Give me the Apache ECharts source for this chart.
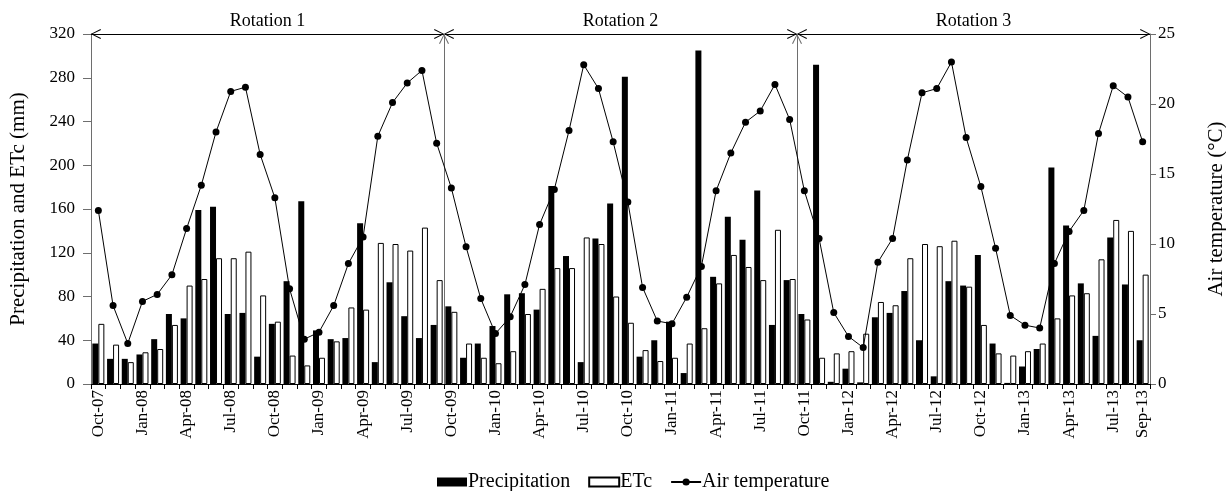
<!DOCTYPE html>
<html>
<head>
<meta charset="utf-8">
<script src="https://cdn.jsdelivr.net/npm/echarts@6/dist/echarts.min.js"></script>
<style>
  html, body { margin: 0; padding: 0; background: #fff; }
  #chart { width: 1226px; height: 491px; }
</style>
</head>
<body>
<div id="chart"></div>
<script>
// Monthly records, Oct-07 to Sep-13
const months = [
  'Oct-07','Nov-07','Dec-07','Jan-08','Feb-08','Mar-08','Apr-08','May-08','Jun-08','Jul-08','Aug-08','Sep-08',
  'Oct-08','Nov-08','Dec-08','Jan-09','Feb-09','Mar-09','Apr-09','May-09','Jun-09','Jul-09','Aug-09','Sep-09',
  'Oct-09','Nov-09','Dec-09','Jan-10','Feb-10','Mar-10','Apr-10','May-10','Jun-10','Jul-10','Aug-10','Sep-10',
  'Oct-10','Nov-10','Dec-10','Jan-11','Feb-11','Mar-11','Apr-11','May-11','Jun-11','Jul-11','Aug-11','Sep-11',
  'Oct-11','Nov-11','Dec-11','Jan-12','Feb-12','Mar-12','Apr-12','May-12','Jun-12','Jul-12','Aug-12','Sep-12',
  'Oct-12','Nov-12','Dec-12','Jan-13','Feb-13','Mar-13','Apr-13','May-13','Jun-13','Jul-13','Aug-13','Sep-13'
];

// Precipitation (mm)
const precipitation = [
  37, 23, 23, 27, 41, 64, 60, 159, 162, 64, 65, 25,
  55, 94, 167, 49, 41, 42, 147, 20, 93, 62, 42, 54,
  71, 24, 37, 53, 82, 83, 68, 181, 117, 20, 133, 165,
  281, 25, 40, 57, 10, 305, 98, 153, 132, 177, 54, 95,
  64, 292, 2, 14, 1.5, 61, 65, 85, 40, 7, 94, 90,
  118, 37, 1, 16, 32, 198, 145, 92, 44, 134, 91, 40
];

// Crop evapotranspiration ETc (mm)
const etc = [
  55, 36, 20, 29, 32, 54, 90, 96, 115, 115, 121, 81,
  57, 26, 17, 24, 39, 70, 68, 129, 128, 122, 143, 95,
  66, 37, 24, 19, 30, 64, 87, 106, 106, 134, 128, 80,
  56, 31, 21, 24, 37, 51, 92, 118, 107, 95, 141, 96,
  59, 24, 28, 30, 46, 75, 72, 115, 128, 126, 131, 89,
  54, 28, 26, 30, 37, 60, 81, 83, 114, 150, 140, 100
];

// Mean air temperature (°C)
const airTemp = [
  12.4, 5.6, 2.9, 5.9, 6.4, 7.8, 11.1, 14.2, 18.0, 20.9, 21.2, 16.4,
  13.3, 6.8, 3.2, 3.7, 5.6, 8.6, 10.5, 17.7, 20.1, 21.5, 22.4, 17.2,
  14.0, 9.8, 6.1, 3.6, 4.8, 7.1, 11.4, 13.9, 18.1, 22.8, 21.1, 17.3,
  13.0, 6.9, 4.5, 4.3, 6.2, 8.4, 13.8, 16.5, 18.7, 19.5, 21.4, 18.9,
  13.8, 10.4, 5.1, 3.4, 2.6, 8.7, 10.4, 16.0, 20.8, 21.1, 23.0, 17.6,
  14.1, 9.7, 4.9, 4.2, 4.0, 8.6, 10.9, 12.4, 17.9, 21.3, 20.5, 17.3
];

// Crop rotations and the month indices bounding them
const rotationNames = ['Rotation 1', 'Rotation 2', 'Rotation 3'];
const rotationBounds = [0, 24, 48, 72];

const leftTicks = { min: 0, max: 320, interval: 40 };
const rightTicks = { min: 0, max: 25, interval: 5 };

const FONT = 'Liberation Serif';
const AXIS_GREY = '#6e6e6e';

const chart = echarts.init(document.getElementById('chart'), null, { renderer: 'canvas' });

// Open chevron arrowhead; the empty sub-path keeps the tip on the line end
const chevron = 'path://M0,10 L5,0 L10,10 L9,10.5 L5,2 L1,10.5 Z M5,-10 L5.01,-10 L5,-10 Z';

const rotationMarks = rotationNames.map((name, i) => [
  { coord: [rotationBounds[i], leftTicks.max], name: name },
  { coord: [rotationBounds[i + 1], leftTicks.max] }
]);
const separatorMarks = rotationBounds.slice(1, -1).map(v => ({
  xAxis: v,
  symbol: 'none',
  label: { show: false },
  lineStyle: { color: AXIS_GREY, width: 1, type: 'solid' }
}));

const option = {
  animation: false,
  textStyle: { fontFamily: FONT, color: '#000' },
  grid: { left: 91, right: 76, top: 34, bottom: 107, containLabel: false, outerBoundsMode: 'none' },
  legend: {
    left: 432,
    top: 467,
    itemWidth: 30,
    itemHeight: 9,
    itemGap: 18,
    data: [
      { name: 'Precipitation', icon: 'rect' },
      { name: 'ETc', icon: 'rect' },
      { name: 'Air temperature' }
    ],
    textStyle: { fontFamily: FONT, fontSize: 20, color: '#000', padding: [0, 0, 0, -4] }
  },
  xAxis: [
    {
      type: 'category',
      data: months,
      boundaryGap: true,
      axisLine: { lineStyle: { color: '#000', width: 1 } },
      axisTick: { show: true, interval: 0, length: 5, lineStyle: { color: '#000' } },
      axisLabel: {
        rotate: 90,
        interval: 0,
        formatter: (v, idx) => (idx % 3 === 0 || idx === months.length - 1) ? v : '',
        fontFamily: FONT,
        fontSize: 17,
        color: '#000',
        margin: 6
      },
      splitLine: { show: false }
    },
    {
      // continuous month scale used for the rotation boundaries
      type: 'value',
      min: rotationBounds[0],
      max: rotationBounds[rotationBounds.length - 1],
      show: false
    }
  ],
  yAxis: [
    {
      type: 'value',
      min: leftTicks.min,
      max: leftTicks.max,
      interval: leftTicks.interval,
      name: 'Precipitation and ETc (mm)',
      nameLocation: 'middle',
      nameRotate: 90,
      nameGap: 62,
      nameTextStyle: { fontFamily: FONT, fontSize: 21, color: '#000' },
      axisLine: { show: true, lineStyle: { color: AXIS_GREY } },
      axisTick: { show: true, length: 8, lineStyle: { color: AXIS_GREY } },
      axisLabel: { fontFamily: FONT, fontSize: 17, color: '#000', margin: 16 },
      splitLine: { show: false }
    },
    {
      type: 'value',
      min: rightTicks.min,
      max: rightTicks.max,
      interval: rightTicks.interval,
      name: 'Air temperature (°C)',
      nameLocation: 'middle',
      nameRotate: 90,
      nameGap: 56,
      nameTextStyle: { fontFamily: FONT, fontSize: 21, color: '#000' },
      axisLine: { show: true, lineStyle: { color: AXIS_GREY } },
      axisTick: { show: true, length: 6, lineStyle: { color: AXIS_GREY } },
      axisLabel: { fontFamily: FONT, fontSize: 17, color: '#000', margin: 8 },
      splitLine: { show: false }
    }
  ],
  series: [
    {
      name: 'Precipitation',
      type: 'bar',
      data: precipitation,
      barWidth: 6,
      barGap: '0%',
      itemStyle: { color: '#000', borderColor: '#000', borderWidth: 0 }
    },
    {
      name: 'ETc',
      type: 'bar',
      data: etc,
      barWidth: 6,
      barGap: '0%',
      itemStyle: { color: '#fff', borderColor: '#000', borderWidth: 1 }
    },
    {
      name: 'Air temperature',
      type: 'line',
      yAxisIndex: 1,
      data: airTemp,
      symbol: 'circle',
      symbolSize: 7,
      z: 5,
      lineStyle: { color: '#000', width: 1 },
      itemStyle: { color: '#000' }
    },
    {
      name: 'rotations',
      type: 'line',
      xAxisIndex: 1,
      yAxisIndex: 0,
      data: [],
      silent: true,
      markLine: {
        silent: true,
        animation: false,
        symbol: [chevron, chevron],
        symbolSize: [10, 20],
        lineStyle: { color: '#000', width: 1, type: 'solid' },
        label: {
          show: true,
          position: 'insideMiddleTop',
          formatter: p => p.name,
          fontFamily: FONT,
          fontSize: 18,
          color: '#000',
          distance: 4
        },
        data: rotationMarks.concat(separatorMarks)
      }
    }
  ]
};

chart.setOption(option);
</script>
</body>
</html>
